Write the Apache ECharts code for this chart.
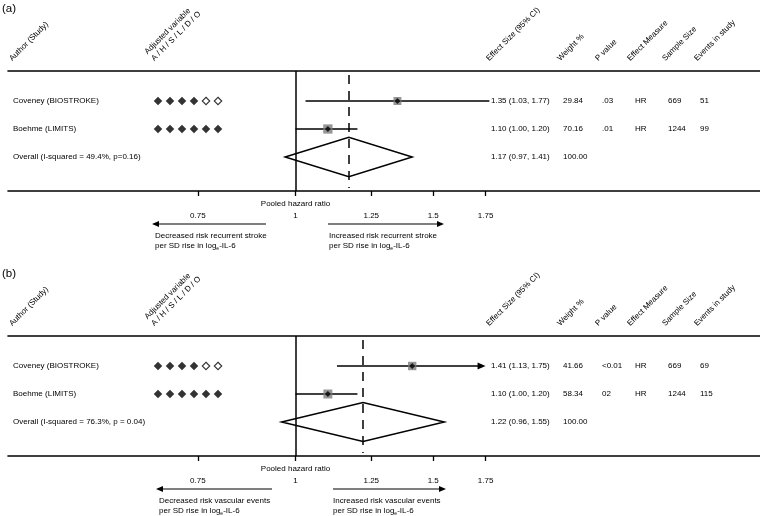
<!DOCTYPE html>
<html><head><meta charset="utf-8">
<script src="https://cdn.jsdelivr.net/npm/echarts@6/dist/echarts.min.js"></script>
<style>html,body{margin:0;padding:0;background:#fff}#c{width:760px;height:516px}</style>
</head><body><div id="c"></div>
<script>
// ---------------- data ----------------
const panelLabels = ['(a)', '(b)'];
const studies = ['Coveney (BIOSTROKE)', 'Boehme (LIMITS)'];
const adjustCats = ['A', 'H', 'S', 'L', 'D', 'O'];
const adjustFlags = [[1, 1, 1, 1, 0, 0], [1, 1, 1, 1, 1, 1]];
const headers = ['Author (Study)', 'Adjusted variable\nA / H / S / L / D / O', 'Effect Size (95% CI)', 'Weight %', 'P value', 'Effect Measure', 'Sample Size', 'Events in study'];
const tickValues = [0.75, 1, 1.25, 1.5, 1.75];
const axisTitle = 'Pooled hazard ratio';

// panel (a)
const estA = [1.35, 1.10];
const lowA = [1.03, 1.00];
const highA = [1.77, 1.20];
const truncatedA = [0, 0];
const weightA = [29.84, 70.16];
const pValA = ['.03', '.01'];
const measureA = ['HR', 'HR'];
const sampleA = [669, 1244];
const eventsA = [51, 99];
const pooledA = [1.17, 0.97, 1.41]; // est, low, high
const overallLabelA = 'Overall (I-squared = 49.4%, p=0.16)';
const leftNoteA = 'Decreased risk recurrent stroke\nper SD rise in log{s|e}-IL-6';
const rightNoteA = 'Increased risk recurrent stroke\nper SD rise in log{s|e}-IL-6';

// panel (b)
const estB = [1.41, 1.10];
const lowB = [1.13, 1.00];
const highB = [1.75, 1.20];
const truncatedB = [1, 0];
const weightB = [41.66, 58.34];
const pValB = ['<0.01', '02'];
const measureB = ['HR', 'HR'];
const sampleB = [669, 1244];
const eventsB = [69, 115];
const pooledB = [1.22, 0.96, 1.55];
const overallLabelB = 'Overall (I-squared = 76.3%, p = 0.04)';
const leftNoteB = 'Decreased risk vascular events\nper SD rise in log{s|e}-IL-6';
const rightNoteB = 'Increased risk vascular events\nper SD rise in log{s|e}-IL-6';

// ---------------- layout ----------------
const FONT = '"Liberation Sans", Arial, Helvetica, sans-serif';
const panelTop = [71, 336];
const panelH = 120;
const X_MIN = -0.8466, X_MAX = 1.3678; // ln(HR) range spanning the rule lines
const Y_MIN = -15 / 14, Y_MAX = 45 / 14;
const lnTicks = tickValues.map(Math.log);

const panels = [
  {est: estA, low: lowA, high: highA, tr: truncatedA, w: weightA, p: pValA, m: measureA, n: sampleA, ev: eventsA, pooled: pooledA, overall: overallLabelA, ln: leftNoteA, rn: rightNoteA, larrow: [266, 152], rarrow: [328, 444], ltx: 155, rtx: 329},
  {est: estB, low: lowB, high: highB, tr: truncatedB, w: weightB, p: pValB, m: measureB, n: sampleB, ev: eventsB, pooled: pooledB, overall: overallLabelB, ln: leftNoteB, rn: rightNoteB, larrow: [272, 156], rarrow: [333, 446], ltx: 159, rtx: 333}
];

const grid = [], xAxis = [], yAxis = [], series = [];
panels.forEach((P, p) => {
  grid[p] = {left: 8, right: 0, top: panelTop[p], height: panelH};
  grid[2 + p] = {left: 152, width: 72, top: panelTop[p], height: panelH};
});
panels.forEach((P, p) => {
  xAxis[2 * p] = {
    type: 'value', gridIndex: p, position: 'bottom', min: X_MIN, max: X_MAX,
    axisLine: {onZero: false, lineStyle: {color: '#000', width: 1.6}},
    axisTick: {show: true, length: 5, customValues: lnTicks, lineStyle: {color: '#000', width: 1.3}},
    axisLabel: {show: true, customValues: lnTicks, margin: 21, color: '#000', fontSize: 8, fontFamily: FONT,
      formatter: v => { const i = lnTicks.findIndex(t => Math.abs(t - v) < 1e-6); return i >= 0 ? String(tickValues[i]) : ''; }},
    splitLine: {show: false}
  };
  xAxis[2 * p + 1] = {
    type: 'value', gridIndex: p, position: 'top', min: X_MIN, max: X_MAX,
    axisLine: {onZero: false, lineStyle: {color: '#000', width: 1.6}},
    axisTick: {show: false}, axisLabel: {show: false}, splitLine: {show: false}
  };
  xAxis[4 + p] = {type: 'category', gridIndex: 2 + p, data: adjustCats, show: false};
  yAxis[p] = {type: 'value', gridIndex: p, min: Y_MIN, max: Y_MAX, inverse: true, show: false};
  yAxis[2 + p] = {type: 'value', gridIndex: 2 + p, min: Y_MIN, max: Y_MAX, inverse: true, show: false};

  const lnPooled = Math.log(P.pooled[0]);
  // confidence intervals
  series.push({
    type: 'custom', xAxisIndex: 2 * p, yAxisIndex: p, silent: true,
    encode: {x: [1, 2], y: 0},
    data: P.est.map((e, i) => [i, Math.log(P.low[i]), Math.log(P.high[i]), P.tr[i]]),
    renderItem: (params, api) => {
      const a = api.coord([api.value(1), api.value(0)]);
      const b = api.coord([api.value(2), api.value(0)]);
      const arrow = api.value(3);
      const ch = [{type: 'line', shape: {x1: a[0], y1: a[1], x2: b[0] - (arrow ? 5 : 0), y2: b[1]}, style: {stroke: '#000', lineWidth: 1.3}}];
      if (arrow) ch.push({type: 'polygon', shape: {points: [[b[0], b[1]], [b[0] - 8, b[1] - 3.5], [b[0] - 8, b[1] + 3.5]]}, style: {fill: '#000'}});
      return {type: 'group', children: ch};
    }
  });
  // weight boxes + reference lines
  series.push({
    type: 'scatter', xAxisIndex: 2 * p, yAxisIndex: p, silent: true,
    symbol: 'rect',
    data: P.est.map((e, i) => ({value: [Math.log(e), i], symbolSize: 5.5 + 4.5 * Math.sqrt(P.w[i] / 100)})),
    itemStyle: {color: '#7c7c7c'},
    markLine: {
      silent: true, symbol: 'none', label: {show: false}, animation: false,
      data: [
        {xAxis: 0, lineStyle: {color: '#000', type: 'solid', width: 1.5}},
        [{coord: [lnPooled, -0.93], lineStyle: {color: '#000', type: [9, 7], width: 1.5}}, {coord: [lnPooled, 3.11]}]
      ]
    }
  });
  // point estimates
  series.push({
    type: 'scatter', xAxisIndex: 2 * p, yAxisIndex: p, silent: true,
    symbol: 'diamond', symbolSize: 6, itemStyle: {color: '#000'},
    data: P.est.map((e, i) => [Math.log(e), i])
  });
  // pooled diamond
  series.push({
    type: 'custom', xAxisIndex: 2 * p, yAxisIndex: p, silent: true,
    encode: {x: [1, 2, 3], y: 0},
    data: [[2, Math.log(P.pooled[1]), lnPooled, Math.log(P.pooled[2])]],
    renderItem: (params, api) => {
      const l = api.coord([api.value(1), api.value(0)]);
      const c = api.coord([api.value(2), api.value(0)]);
      const r = api.coord([api.value(3), api.value(0)]);
      const h = api.size([0, 1])[1] * 0.7;
      return {type: 'polygon', shape: {points: [[l[0], l[1]], [c[0], c[1] - h], [r[0], r[1]], [c[0], c[1] + h]]},
        style: {fill: 'none', stroke: '#000', lineWidth: 1.5}};
    }
  });
  // adjustment markers
  const adj = [];
  adjustFlags.forEach((row, i) => row.forEach((f, j) => adj.push({
    value: [j, i], symbolSize: f ? 8.5 : 7.5,
    itemStyle: f ? {color: '#000'} : {color: '#fff', borderColor: '#000', borderWidth: 1.1}
  })));
  series.push({type: 'scatter', xAxisIndex: 4 + p, yAxisIndex: 2 + p, silent: true, symbol: 'diamond', data: adj});
});

const chart = echarts.init(document.getElementById('c'));
chart.setOption({animation: false, backgroundColor: '#fff', grid, xAxis, yAxis, series});

// ---------------- table text ----------------
const txt = (x, y, text, extra) => ({type: 'text', x, y, silent: true,
  style: Object.assign({text, fill: '#000', fontSize: 8, fontFamily: FONT, align: 'left', verticalAlign: 'middle'}, extra || {})});
const headerX = [14, 156, 491, 562, 600, 632, 667, 699];
const colX = {eff: 491, w: 563, p: 602, m: 635, n: 668, ev: 700};
const g = [];
panels.forEach((P, p) => {
  const rowY = i => chart.convertToPixel({xAxisIndex: 2 * p, yAxisIndex: p}, [0, i])[1];
  const px = v => chart.convertToPixel({xAxisIndex: 2 * p, yAxisIndex: p}, [Math.log(v), 0])[0];
  const axisY = panelTop[p] + panelH;
  g.push(txt(2, panelTop[p] - 62, panelLabels[p], {fontSize: 11.5}));
  headers.forEach((h, k) => g.push({type: 'text', x: headerX[k], y: panelTop[p] - 8, rotation: Math.PI / 4, silent: true,
    style: {text: h, fill: '#000', fontSize: 8, fontFamily: FONT, align: 'left', verticalAlign: 'bottom', lineHeight: 9.5}}));
  studies.forEach((s, i) => {
    const y = rowY(i);
    g.push(txt(13, y, s));
    g.push(txt(colX.eff, y, P.est[i].toFixed(2) + ' (' + P.low[i].toFixed(2) + ', ' + P.high[i].toFixed(2) + ')'));
    g.push(txt(colX.w, y, P.w[i].toFixed(2)));
    g.push(txt(colX.p, y, P.p[i]));
    g.push(txt(colX.m, y, P.m[i]));
    g.push(txt(colX.n, y, String(P.n[i])));
    g.push(txt(colX.ev, y, String(P.ev[i])));
  });
  const yo = rowY(2);
  g.push(txt(13, yo, P.overall));
  g.push(txt(colX.eff, yo, P.pooled[0].toFixed(2) + ' (' + P.pooled[1].toFixed(2) + ', ' + P.pooled[2].toFixed(2) + ')'));
  g.push(txt(colX.w, yo, P.w.reduce((a, b) => a + b, 0).toFixed(2)));
  // axis title
  g.push(txt(px(1), axisY + 13, axisTitle, {align: 'center'}));
  // direction arrows
  const ay = axisY + 33;
  [[P.larrow, -1], [P.rarrow, 1]].forEach(([ar, dir]) => {
    g.push({type: 'line', silent: true, shape: {x1: ar[0], y1: ay, x2: ar[1] - dir * 5, y2: ay}, style: {stroke: '#000', lineWidth: 1.2}});
    g.push({type: 'polygon', silent: true, shape: {points: [[ar[1], ay], [ar[1] - dir * 7, ay - 3], [ar[1] - dir * 7, ay + 3]]}, style: {fill: '#000'}});
  });
  const rich = {s: {fontSize: 5, fontFamily: FONT, fill: '#000', verticalAlign: 'bottom', lineHeight: 6}};
  g.push(txt(P.ltx, axisY + 40, P.ln, {verticalAlign: 'top', lineHeight: 10, rich}));
  g.push(txt(P.rtx, axisY + 40, P.rn, {verticalAlign: 'top', lineHeight: 10, rich}));
});
chart.setOption({graphic: g});
</script>
</body></html>
